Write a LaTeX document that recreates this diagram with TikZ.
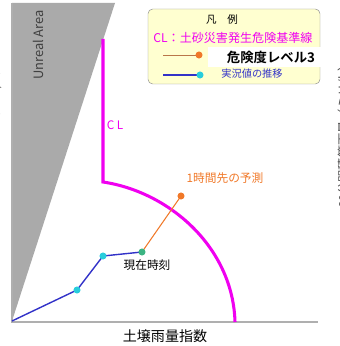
\documentclass[tikz,border=0pt]{standalone}
\usepackage{fontspec}
\newfontfamily\cjk{Noto Sans CJK JP}[BoldFont={Noto Sans CJK JP Bold}]
\tikzset{
    datadot/.style={circle, inner sep=0pt, minimum size=6pt},
    jtext/.style={font=\cjk, inner sep=1pt}
}

\begin{document}
\begin{tikzpicture}[x=0.03cm, y=-0.03cm]
                \definecolor{cline}{RGB}{240,0,240}
                \definecolor{forecast}{RGB}{240,120,40}
                \definecolor{history}{RGB}{50,50,200}
                \definecolor{histdot}{RGB}{40,205,220}
                \definecolor{nowdot}{RGB}{60,180,130}
                \definecolor{unreal}{RGB}{170,170,170}
                \definecolor{axisgray}{RGB}{175,175,175}
                \definecolor{legendbg}{RGB}{255,255,208}

                \useasboundingbox (0,0) rectangle (339,346);

                % unreal area
                \fill [unreal] (12,3) -- (115,3) -- (12,321) -- cycle;
                \node [jtext, rotate=90, text=black!75, font=\cjk\fontsize{11}{12}\selectfont] (unrealtxt) at (38,45) {Unreal Area};

                % axes
                \coordinate (origin) at (12,322);
                \coordinate (ytop) at (12,3);
                \coordinate (xend) at (318,322);
                \draw [axisgray, line width=1.2pt] (ytop) -- (origin) -- (xend);
                \node [jtext, font=\cjk\fontsize{12}{13}\selectfont] (xlabel) at (165,336) {土壌雨量指数};
                \node [jtext, rotate=90, text=black!70, font=\cjk\fontsize{10.5}{12}\selectfont] (ylabel) at (-5,138) {60分間積算雨量（ミリ/h）};
                \node [jtext, rotate=90, text=black!70, font=\cjk\fontsize{10.5}{12}\selectfont] (ylabel2) at (344,134) {60分間積算雨量（ミリ/h）};

                % critical line
                \coordinate (cltop) at (103,39);
                \coordinate (clknee) at (103,182);
                \coordinate (clend) at (235,322);
                \draw [cline, line width=2.6pt] (cltop) -- (clknee) .. controls (170,192) and (233,248) .. (clend);
                \node [jtext, text=cline, font=\cjk\fontsize{10}{12}\selectfont] (cllabel) at (115,125) {C L};

                % history and forecast
                \coordinate (p0) at (12,321);
                \coordinate (p1) at (77,290);
                \coordinate (p2) at (103,256);
                \coordinate (now) at (142,252);
                \coordinate (pred) at (181,196);
                \draw [history, line width=1.2pt] (p0) -- (p1) -- (p2) -- (now);
                \draw [forecast, line width=0.9pt] (now) -- (pred);
                \node [datadot, fill=histdot] at (p1) {};
                \node [datadot, fill=histdot] at (p2) {};
                \node [datadot, fill=nowdot] at (now) {};
                \node [datadot, fill=forecast] at (pred) {};
                \node [jtext, font=\cjk\fontsize{10}{12}\selectfont] (nowlabel) at (147,265) {現在時刻};
                \node [jtext, text=forecast, font=\cjk\fontsize{10}{12}\selectfont] (predlabel) at (225,178) {1時間先の予測};

                % legend
                \draw [black!45, fill=legendbg, rounded corners=4pt] (148,9) rectangle (320,84);
                \node [jtext, font=\cjk\fontsize{9}{11}\selectfont] (legtitle) at (222,20) {凡\hspace{1em}例};
                \node [jtext, text=cline, font=\cjk\fontsize{10.3}{12}\selectfont] (legcl) at (233,38) {CL：土砂災害発生危険基準線};
                \coordinate (legfa) at (163,55);
                \coordinate (legfb) at (199,55);
                \draw [forecast!70!black!80, line width=0.8pt] (legfa) -- (legfb);
                \node [datadot, fill=forecast] at (legfb) {};
                \node [fill=white, minimum width=3.39cm, minimum height=0.6cm, inner sep=0pt] (levelbox) at (264,57) {};
                \node [jtext, font=\cjk\bfseries\fontsize{11.4}{13}\selectfont] (leveltxt) at (271,57) {危険度レベル3};
                \coordinate (legha) at (163,75);
                \coordinate (leghb) at (200,75);
                \draw [history, line width=1.6pt] (legha) -- (leghb);
                \node [datadot, fill=histdot] at (leghb) {};
                \node [jtext, text=history, font=\cjk\fontsize{8.7}{10}\selectfont] (leghist) at (252,74) {実況値の推移};

            \end{tikzpicture}
\end{document}
